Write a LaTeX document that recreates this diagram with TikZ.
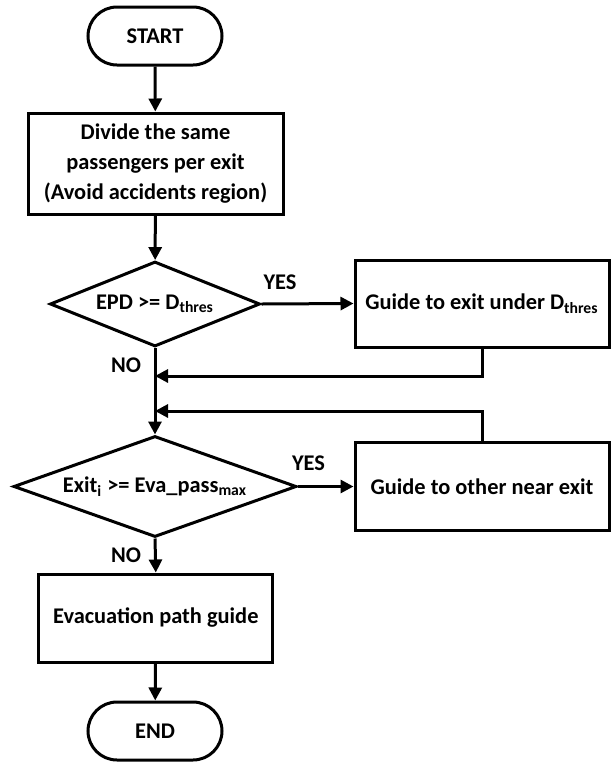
\documentclass[tikz,border=0pt]{standalone}
\usepackage{fontspec}
\setmainfont{Carlito}
\usetikzlibrary{shapes.geometric,shapes.misc,arrows.meta}

\begin{document}
\begin{tikzpicture}[
    x=0.5pt, y=-0.5pt,
    every node/.style={font=\fontsize{11.2}{15}\selectfont\bfseries},
    term/.style={draw, line width=1.5pt, rounded rectangle, minimum width=67pt, minimum height=29pt, inner sep=0pt},
    proc/.style={draw, line width=1.5pt, align=center, inner sep=0pt},
    test/.style={draw, line width=1.5pt, diamond, inner sep=0pt},
    lbl/.style={inner sep=0pt},
    arr/.style={-{Triangle[length=6.5pt,width=6.5pt]}, line width=1.5pt}
]
    \useasboundingbox (0,0) rectangle (613,762);

    \node[term] (start)   at (155, 36)    {START};
    \node[proc, minimum width=127.5pt, minimum height=50.5pt] (divide) at (155.5,163.5)
        {Divide the same\\passengers per exit\\(Avoid accidents region)};

    \node[test, minimum width=105pt, minimum height=42.5pt,
          label=center:{EPD >= D\textsubscript{thres}}] (epd) at (155, 304) {};
    \node[proc, minimum width=127pt, minimum height=43.5pt] (guide1) at (482, 303.5)
        {Guide to exit under D\textsubscript{thres}};

    \node[test, minimum width=141.5pt, minimum height=50.5pt,
          label=center:{Exit\textsubscript{i} >= Eva\_pass\textsubscript{max}}] (exitchk) at (155, 486.5) {};
    \node[proc, minimum width=127pt, minimum height=44pt] (guide2) at (482, 486.5)
        {Guide to other near exit};

    \node[proc, minimum width=117pt, minimum height=44pt] (evac) at (155.8, 618)
        {Evacuation path guide};
    \node[term] (stop)    at (155, 731)   {END};

    % junctions on the main line
    \coordinate (join1) at (155, 376);
    \coordinate (join2) at (155, 411);

    \node[lbl] (yes1) at (280, 282)   {YES};
    \node[lbl] (no1)  at (126, 365)   {NO};
    \node[lbl] (yes2) at (308.5, 463) {YES};
    \node[lbl] (no2)  at (126, 555)   {NO};

    \draw[arr] (start)  -- (divide);
    \draw[arr] (divide) -- (epd);
    \draw[arr] (epd.east) -- (guide1.west);
    \draw[arr] (epd.south) -- (exitchk.north);
    \draw[arr] (guide1.south) |- (join1);
    \draw[arr] (guide2.north) |- (join2);
    \draw[arr] (exitchk.east) -- (guide2.west);
    \draw[arr] (exitchk.south) -- (evac.north);
    \draw[arr] (evac) -- (stop);
\end{tikzpicture}
\end{document}
